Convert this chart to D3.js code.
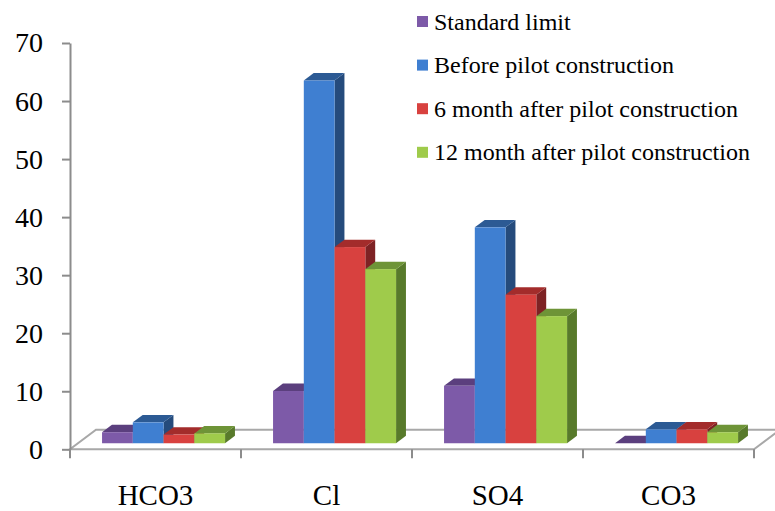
<!DOCTYPE html>
<html lang="en">
  <head>
    <meta charset="utf-8" />
    <title>Ion concentrations</title>
    <script src="https://d3js.org/d3.v7.min.js"></script>
    <style>
      body {
        margin: 0;
        background: #fff;
      }
      svg {
        display: block;
      }
      svg text {
        font-family: "Liberation Serif", "DejaVu Serif", serif;
        fill: #000;
      }
      .floor {
        fill: none;
        stroke: #a8a8a8;
        stroke-width: 2;
      }
      .axis path, .axis line {
        stroke: #8c8c8c;
        stroke-width: 2;
      }
      .legend text {
        font-size: 24px;
      }
    </style>
  </head>
  <body>
    <svg width="775" height="511"></svg>
    <script>

    var categories = ["HCO3", "Cl", "SO4", "CO3"];
    var series = [
      "Standard limit",
      "Before pilot construction",
      "6 month after pilot construction",
      "12 month after pilot construction"
    ];
    var standardLimit = [1.9, 9.0, 9.9, 0];
    var beforePilot   = [3.6, 62.5, 37.2, 2.4];
    var after6Month   = [1.5, 33.8, 25.6, 2.4];
    var after12Month  = [1.7, 30.0, 21.9, 1.9];
    var yTicks = [0, 10, 20, 30, 40, 50, 60, 70];

    var values = [standardLimit, beforePilot, after6Month, after12Month];

    // front, top, side shades
    var colours = [
      ["#7d5aa8", "#5b3f7e", "#4f356e"],
      ["#3f7fd1", "#2c5a94", "#254b7c"],
      ["#d8413f", "#a32c2b", "#7e2224"],
      ["#9fcb4b", "#6e9437", "#587a2b"]
    ];

    var svg = d3.select("svg");

    // oblique depth of the floor
    var DX = 26, DY = 19.5,
        zFront = 0.31, zBack = 0.69;

    var x0 = d3.scaleBand().domain(categories).range([70, 754]),
        x1 = d3.scaleBand().domain(series).range([0, x0.bandwidth()]).paddingOuter(0.78),
        y = d3.scaleLinear().domain([0, 70]).range([449.3, 43]);

    function pt(x, v, z) {
      return [x + z * DX, y(v) - z * DY];
    }
    function poly(points) {
      return "M" + points.map(function(p) { return p.join(","); }).join("L") + "Z";
    }

    // floor
    var xl = x0.range()[0], xr = x0.range()[1];
    svg.append("path")
        .attr("class", "floor")
        .attr("d", poly([pt(xl, 0, 0), pt(xr, 0, 0), pt(xr, 0, 1), pt(xl, 0, 1)]));

    // y axis
    svg.append("g")
        .attr("class", "axis")
        .attr("transform", "translate(" + xl + ",0)")
        .call(d3.axisLeft(y).tickValues(yTicks).tickSize(8).tickPadding(19).tickSizeOuter(0))
        .call(function(g) {
          g.attr("font-family", null);
          g.selectAll("text").style("font-size", "28px");
        });

    // category boundary ticks
    var bounds = categories.map(function(c) { return x0(c); }).concat([xr]);
    svg.append("g")
        .attr("class", "axis")
        .selectAll("line")
        .data(bounds)
        .enter().append("line")
        .attr("x1", function(d) { return d; })
        .attr("x2", function(d) { return d; })
        .attr("y1", y(0))
        .attr("y2", y(0) + 9);

    // category labels
    svg.append("g")
        .selectAll("text")
        .data(categories)
        .enter().append("text")
        .attr("x", function(d) { return x0(d) + x0.bandwidth() / 2; })
        .attr("y", 505)
        .attr("text-anchor", "middle")
        .style("font-size", "29px")
        .text(function(d) { return d; });

    // bars
    var bars = svg.append("g");
    categories.forEach(function(cat, ci) {
      series.forEach(function(s, si) {
        var v = values[si][ci],
            xa = x0(cat) + x1(s),
            xb = xa + x1.bandwidth(),
            c = colours[si],
            g = bars.append("g");
        g.append("path")
            .attr("d", poly([pt(xb, 0, zFront), pt(xb, 0, zBack), pt(xb, v, zBack), pt(xb, v, zFront)]))
            .attr("fill", c[2]);
        g.append("path")
            .attr("d", poly([pt(xa, v, zFront), pt(xb, v, zFront), pt(xb, v, zBack), pt(xa, v, zBack)]))
            .attr("fill", c[1]);
        if (v > 0) {
          var p0 = pt(xa, v, zFront), p1 = pt(xb, 0, zFront);
          g.append("rect")
              .attr("x", p0[0])
              .attr("y", p0[1])
              .attr("width", p1[0] - p0[0])
              .attr("height", p1[1] - p0[1])
              .attr("fill", c[0]);
        }
      });
    });

    // legend
    var legend = svg.append("g")
        .attr("class", "legend")
        .attr("transform", "translate(417,21.5)");

    var item = legend.selectAll("g")
        .data(series)
        .enter().append("g")
        .attr("transform", function(d, i) { return "translate(0," + (i * 43.6) + ")"; });

    item.append("rect")
        .attr("x", 0)
        .attr("y", -5.5)
        .attr("width", 11)
        .attr("height", 11)
        .attr("fill", function(d, i) { return colours[i][0]; });

    item.append("text")
        .attr("x", 17)
        .attr("y", 8)
        .text(function(d) { return d; });

    </script>
  </body>
</html>
